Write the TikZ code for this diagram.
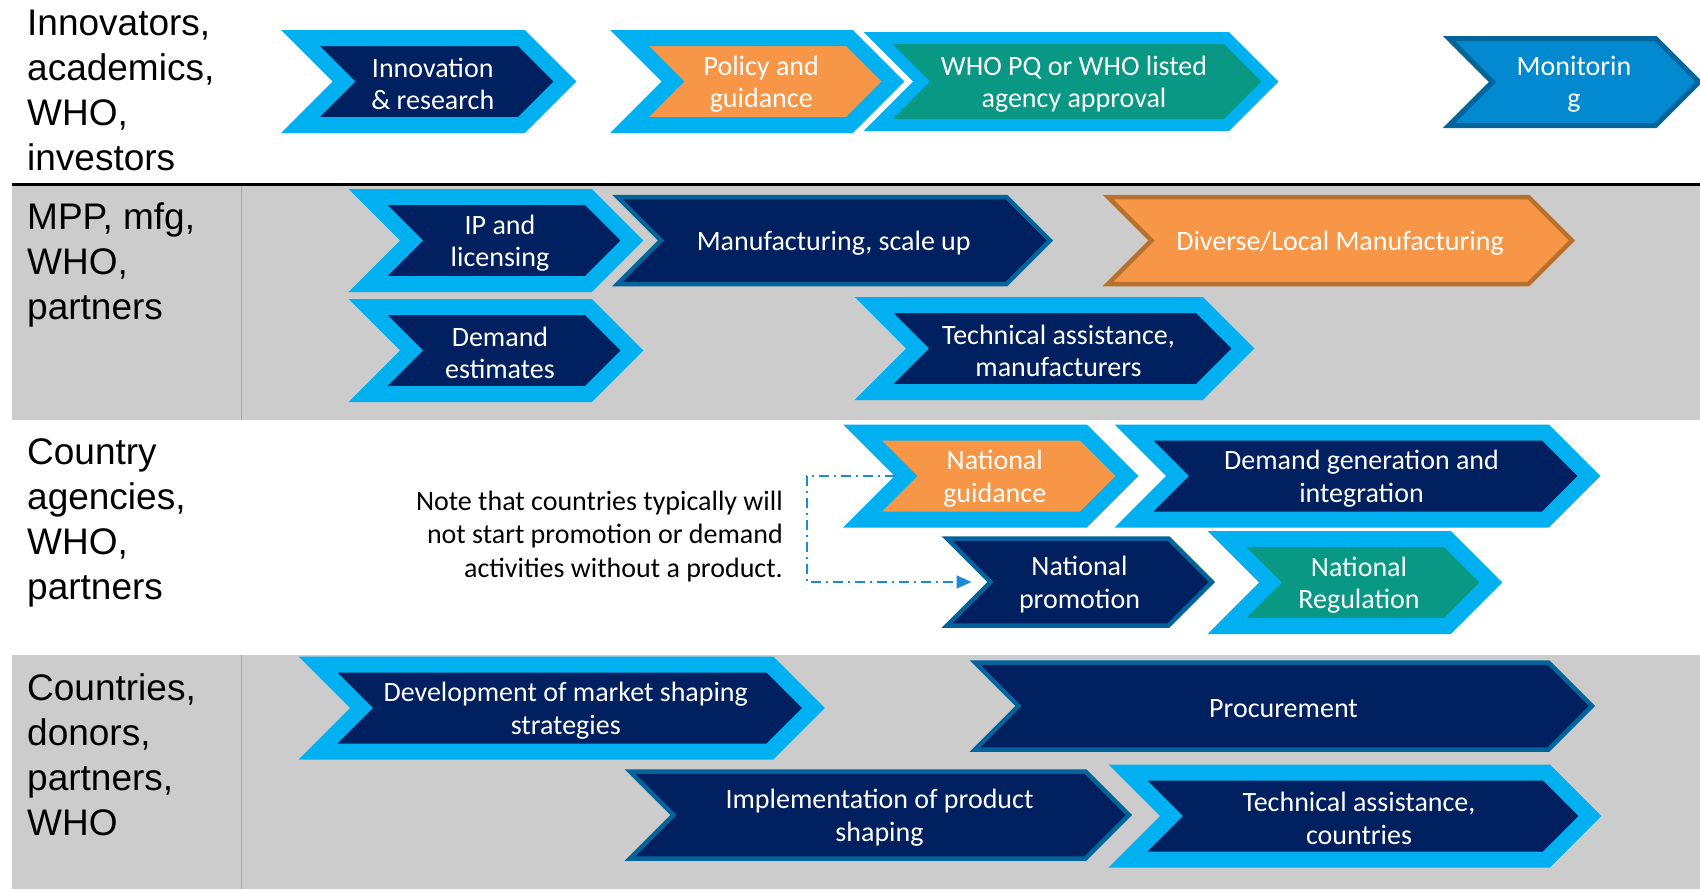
\documentclass[tikz,border=0pt]{standalone}
\usepackage{fontspec}
\setmainfont{Carlito}
\newfontfamily\labelfont{Liberation Sans}
\usetikzlibrary{arrows.meta}
\definecolor{navy}{HTML}{002060}
\definecolor{skyblue}{HTML}{00B0F0}
\definecolor{steel}{HTML}{03639B}
\definecolor{pporange}{HTML}{F79646}
\definecolor{rust}{HTML}{B8702F}
\definecolor{whoteal}{RGB}{8,152,132}
\definecolor{monblue}{RGB}{2,137,208}
\definecolor{panel}{HTML}{CCCCCC}
\definecolor{rulegray}{HTML}{A6A6A6}
\definecolor{linkblue}{RGB}{28,139,214}
\tikzset{
  chevtext/.style={text=white, align=center, inner sep=0pt, font=\fontsize{28}{32.5}\selectfont},
  rimmed/.style={fill=#1, draw=skyblue, line width=16pt},
  thinrim/.style={fill=#1, draw=steel, line width=4.5pt},
  rowlabel/.style={anchor=north west, align=left, inner sep=0pt, font=\labelfont\fontsize{37}{45}\selectfont},
  notetext/.style={anchor=east, align=right, inner sep=0pt, font=\fontsize{28}{33.5}\selectfont},
  notelink/.style={linkblue, line width=2pt, dash pattern=on 10pt off 5pt on 2pt off 5pt,
    -{Triangle[length=15pt,width=13pt]}, shorten <=11pt, shorten >=19pt},
}
% chevron: name, left x, tip x, centre y, style, text
\newcommand\chev[6]{%
  \path[#5] (#2,#4-43.5) -- (#3-43.5,#4-43.5) -- (#3,#4) -- (#3-43.5,#4+43.5)
    -- (#2,#4+43.5) -- (#2+43.5,#4) -- cycle;
  \coordinate (#1-in) at (#2+43.5,#4);
  \node[chevtext] (#1) at ({(#2+#3)/2},#4+2.5) {#6};
}
\begin{document}
\begin{tikzpicture}[x=1pt, y=-1pt]
\useasboundingbox (0,0) rectangle (1700,889);
\fill[panel] (12,186) rectangle (1700,420);
\fill[panel] (12,655) rectangle (1700,889);
\draw[rulegray, line width=1pt] (241,186) -- (241,420) (241,655) -- (241,889);
\draw[line width=3pt] (12,184) -- (1700,184);

\node[rowlabel] (innovators) at (27,10) {Innovators,\\academics,\\WHO,\\investors};
\node[rowlabel] (mpp) at (27,203) {MPP, mfg,\\WHO,\\partners};
\node[rowlabel] (agencies) at (27,438) {Country\\agencies,\\WHO,\\partners};
\node[rowlabel] (donors) at (27,673) {Countries,\\donors,\\partners,\\WHO};

\chev{innov}{300.5}{565}{81.5}{rimmed=navy}{Innovation\\\& research}
\chev{policy}{629.5}{893}{81.5}{rimmed=pporange}{Policy and\\guidance}
\chev{whopq}{878}{1270}{81.5}{rimmed=whoteal, line width=12pt}{WHO PQ or WHO listed\\agency approval}
\chev{monit}{1449}{1699}{82}{thinrim=monblue, line width=5pt}{Monitorin\\g}

\chev{ip}{368}{632}{240.5}{rimmed=navy}{IP and\\licensing}
\chev{manuf}{617.5}{1050}{240.5}{thinrim=navy}{Manufacturing, scale up}
\chev{diverse}{1108}{1572}{240.5}{thinrim=pporange, draw=rust}{Diverse/Local Manufacturing}
\chev{demest}{368}{632}{350.5}{rimmed=navy}{Demand\\estimates}
\chev{tamanuf}{874}{1243}{348.5}{rimmed=navy}{Technical assistance,\\manufacturers}

\chev{natguide}{862.5}{1127}{476}{rimmed=pporange}{National\\guidance}
\chev{demgen}{1134}{1589}{476}{rimmed=navy}{Demand generation and\\integration}
\chev{natpromo}{947}{1212}{582}{thinrim=navy}{National\\promotion}
\chev{natreg}{1227}{1491}{582.5}{rimmed=whoteal}{National\\Regulation}

\chev{devstrat}{318}{813.5}{708}{rimmed=navy}{Development of market shaping\\strategies}
\chev{procure}{975}{1592}{706}{thinrim=navy}{Procurement}
\chev{implem}{630}{1129}{815}{thinrim=navy}{Implementation of product\\shaping}
\chev{tacountry}{1128}{1590}{816}{rimmed=navy}{Technical assistance,\\countries}

\node[notetext] (note) at (783,536.5) {Note that countries typically will\\not start promotion or demand\\activities without a product.};
\coordinate (notecorner) at (807,582);
\draw[notelink] (natguide-in) -| (notecorner) -- (natpromo-in);
\end{tikzpicture}
\end{document}
